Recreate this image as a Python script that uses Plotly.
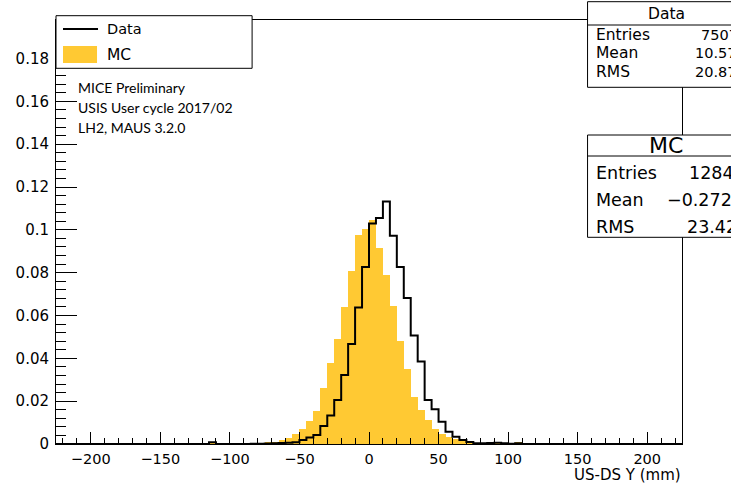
import numpy as np
import plotly.graph_objects as go

# Upstream-minus-downstream Y residual, normalised histograms (5 mm bins)
bin_width = 5.0
first_edge = -120.0

data_frac = [
    0.0000, 0.0008, 0.0000, 0.0000, 0.0000, 0.0000, 0.0000, 0.0001,
    0.0001, 0.0002, 0.0003, 0.0005, 0.0006, 0.0008, 0.0019, 0.0030,
    0.0042, 0.0084, 0.0133, 0.0206, 0.0322, 0.0467, 0.0637, 0.0826,
    0.1030, 0.1055, 0.1132, 0.0973, 0.0826, 0.0682, 0.0507, 0.0385,
    0.0206, 0.0162, 0.0104, 0.0057, 0.0034, 0.0019, 0.0009, 0.0003,
    0.0003, 0.0005, 0.0006, 0.0003, 0.0001, 0.0003, 0.0000, 0.0000,
]
mc_frac = [
    0.0000, 0.0003, 0.0000, 0.0000, 0.0000, 0.0001, 0.0001, 0.0002,
    0.0003, 0.0005, 0.0010, 0.0021, 0.0029, 0.0045, 0.0069, 0.0106,
    0.0153, 0.0262, 0.0377, 0.0492, 0.0640, 0.0808, 0.0977, 0.1003,
    0.1045, 0.0914, 0.0790, 0.0645, 0.0483, 0.0350, 0.0221, 0.0159,
    0.0112, 0.0069, 0.0047, 0.0033, 0.0022, 0.0012, 0.0006, 0.0004,
    0.0002, 0.0002, 0.0001, 0.0001, 0.0001, 0.0005, 0.0000, 0.0000,
]

data_stats = [("Entries", "7507"), ("Mean", "10.57"), ("RMS", "20.87")]
mc_stats = [("Entries", "12846"), ("Mean", "\u22120.2726"), ("RMS", "23.42")]
info_lines = ["MICE Preliminary", "USIS User cycle 2017/02", "LH2, MAUS 3.2.0"]

x_range = [-225, 225]
y_range = [0, 0.198]

MC_COLOR = "#FFC933"
ROOT_FONT = "DejaVu Sans"

# page / plot-area geometry in pixels
W, H = 731, 486
ML, MR, MT, MB = 56, 49.3, 20, 42
PW, PH = W - ML - MR, H - MT - MB


def fx(px):
    return (px - ML) / PW


def fy(py):
    return (H - MB - py) / PH


lo = first_edge + bin_width * np.arange(len(data_frac))
centers = lo + bin_width / 2

fig = go.Figure()
fig.add_trace(go.Bar(
    x=centers, y=mc_frac, width=bin_width,
    marker=dict(color=MC_COLOR, line=dict(width=0)),
    hoverinfo="skip", showlegend=False,
))

step_x = [x_range[0]] + list(lo) + [lo[-1] + bin_width, x_range[1]]
step_y = [0.0] + list(data_frac) + [0.0, 0.0]
fig.add_trace(go.Scatter(
    x=step_x, y=step_y, mode="lines",
    line=dict(color="black", width=2, shape="hv"),
    hoverinfo="skip", showlegend=False,
))

shapes = []
annotations = []


def box(x0, y0, x1, y1, width=1):
    shapes.append(dict(type="rect", xref="paper", yref="paper",
                       x0=fx(x0), x1=fx(x1), y0=fy(y1), y1=fy(y0),
                       fillcolor="white", line=dict(color="black", width=width),
                       layer="above"))


def hline(x0, x1, y, width=1):
    shapes.append(dict(type="line", xref="paper", yref="paper",
                       x0=fx(x0), x1=fx(x1), y0=fy(y), y1=fy(y),
                       line=dict(color="black", width=width), layer="above"))


def text(s, x, y, size, anchor="left", family=ROOT_FONT):
    annotations.append(dict(text=s, xref="paper", yref="paper",
                            x=fx(x), y=fy(y), xanchor=anchor, yanchor="middle",
                            showarrow=False, borderpad=0,
                            font=dict(family=family, size=size, color="black")))


# legend
box(56, 15.7, 252, 68.3)
hline(63, 98, 29, width=2)
shapes.append(dict(type="rect", xref="paper", yref="paper",
                   x0=fx(63), x1=fx(97), y0=fy(63), y1=fy(46),
                   fillcolor=MC_COLOR, line=dict(width=0), layer="above"))
text("Data", 106, 29, 14.5)
text("MC", 106, 55, 15.5)

# statistics boxes (they run past the right edge of the page)
box(587.3, 1.7, 760, 87.3)
hline(587.3, 760, 25)
text("Data", 666, 13.5, 15.5, anchor="center")
for (label, val), y, vx in zip(data_stats, [35, 53.5, 72], [700, 694, 694]):
    text(label, 595, y, 15.5)
    text(val, vx, y, 14.5)

box(587.3, 135, 760, 237.3)
hline(587.3, 760, 156)
text("MC", 666, 145.5, 22, anchor="center")
for (label, val), y, vx in zip(mc_stats, [173, 200, 227], [687.3, 666, 686]):
    text(label, 595, y, 17.5)
    text(val, vx, y, 17.5)

# free-standing labels
for s, y in zip(info_lines, [88, 108, 127.5]):
    text(s, 77, y, 14, family="Lato")

# x-axis title, right-aligned at the frame edge
annotations.append(dict(text="US-DS Y (mm)", xref="paper", yref="paper",
                        x=1, y=fy(475), xanchor="right", yanchor="middle",
                        showarrow=False, borderpad=0,
                        font=dict(family=ROOT_FONT, size=15, color="black")))

axis_common = dict(showline=True, linecolor="black", linewidth=1, mirror=True,
                   ticks="inside", tickcolor="black", tickwidth=1,
                   showgrid=False, zeroline=False)

fig.update_layout(
    width=W, height=H,
    margin=dict(l=ML, r=MR, t=MT, b=MB, pad=0),
    paper_bgcolor="white", plot_bgcolor="white",
    bargap=0, showlegend=False,
    xaxis=dict(range=x_range, tick0=0, dtick=50, ticklen=12,
               minor=dict(ticks="inside", ticklen=6, dtick=10, tickcolor="black"),
               tickfont=dict(family=ROOT_FONT, size=14.5, color="black"),
               ticklabelstandoff=2, **axis_common),
    yaxis=dict(range=y_range, tick0=0, dtick=0.02, ticklen=21,
               minor=dict(ticks="inside", ticklen=10, dtick=0.004, tickcolor="black"),
               tickfont=dict(family=ROOT_FONT, size=15, color="black"),
               ticklabelstandoff=3, **axis_common),
    shapes=shapes, annotations=annotations,
)

fig.write_html("out.html")
